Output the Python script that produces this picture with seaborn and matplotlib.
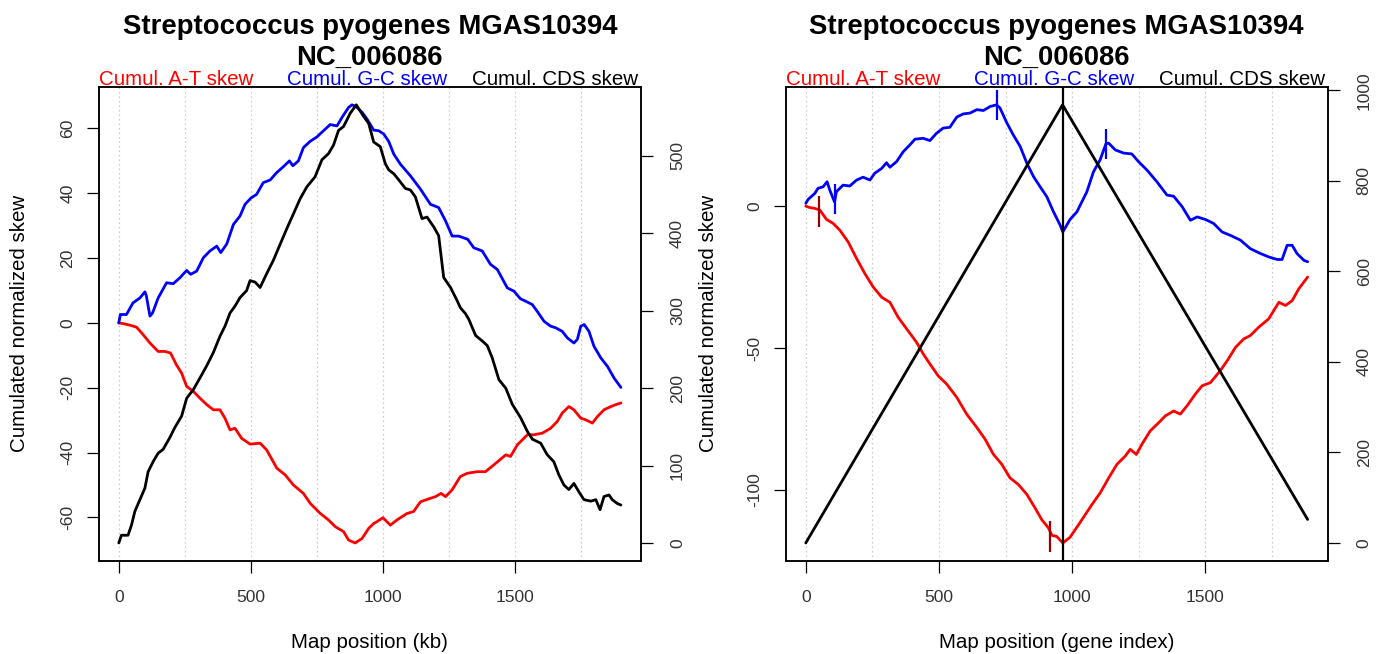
import numpy as np
import pandas as pd
import matplotlib
matplotlib.use("Agg")
import matplotlib.pyplot as plt
import seaborn as sns
from matplotlib.ticker import FixedLocator

sns.set_theme(style="ticks")
plt.rcParams['font.family'] = ['Liberation Sans', 'DejaVu Sans']
plt.rcParams['text.color'] = 'black'
plt.rcParams['axes.labelcolor'] = 'black'
plt.rcParams['axes.unicode_minus'] = False

# ---------------- data: skew by map position (kb) ----------------
kb_gc = [0, 6, 29, 54, 80, 99, 104, 118, 128, 149, 181, 206, 231, 257, 272, 295, 320, 345,
         371, 386, 409, 434, 459, 478, 500, 522, 547, 573, 598, 623, 646, 659, 680, 699,
         724, 750, 775, 800, 826, 845, 870, 883, 899, 921, 940, 965, 984, 1003, 1022, 1041,
         1066, 1104, 1142, 1180, 1211, 1237, 1262, 1287, 1321, 1344, 1376, 1407, 1433, 1471,
         1496, 1520, 1540, 1565, 1584, 1610, 1635, 1654, 1679, 1698, 1723, 1736, 1749, 1762,
         1780, 1799, 1825, 1850, 1875, 1901]
gc_kb = [0, 2.6, 2.6, 6.2, 7.7, 9.6, 8.5, 2.1, 3.1, 7.7, 12.4, 12.1, 13.9, 16.2, 15.0, 16.0,
         20.1, 22.2, 23.7, 21.7, 24.4, 30.4, 33.0, 36.6, 38.5, 39.7, 43.3, 44.1, 46.4, 48.2,
         50.0, 48.5, 50.0, 54.1, 56.0, 57.4, 59.3, 61.2, 60.8, 63.4, 66.5, 67.3, 66.7, 65.0,
         62.9, 59.5, 59.3, 58.3, 56.0, 52.1, 49.0, 45.4, 41.3, 36.6, 35.6, 31.5, 26.8, 26.8,
         25.8, 23.2, 22.2, 18.1, 16.5, 10.8, 9.8, 7.5, 6.7, 5.7, 3.6, 0.5, -1.0, -1.5, -2.6,
         -4.6, -6.2, -5.1, -1.0, -0.5, -2.6, -7.2, -10.8, -13.4, -17.0, -19.9]

kb_at = [0, 16, 42, 67, 92, 118, 149, 175, 196, 218, 238, 257, 282, 307, 333, 358, 383, 402,
         421, 440, 465, 497, 535, 560, 598, 630, 661, 699, 725, 763, 794, 820, 851, 870, 895,
         921, 946, 965, 978, 1000, 1028, 1053, 1091, 1116, 1142, 1173, 1199, 1220, 1237, 1262,
         1293, 1319, 1357, 1388, 1420, 1465, 1483, 1509, 1547, 1572, 1604, 1635, 1660, 1679,
         1704, 1723, 1749, 1768, 1793, 1812, 1837, 1863, 1882, 1901]
at_kb = [0, -0.2, -0.7, -1.3, -3.6, -6.2, -8.8, -8.8, -9.3, -12.9, -15.5, -19.6, -21.1, -23.2,
         -25.2, -26.8, -26.8, -29.4, -33.0, -32.5, -35.6, -37.4, -37.1, -39.2, -44.8, -46.9,
         -50.0, -52.6, -55.7, -58.8, -60.8, -62.9, -64.4, -67.0, -67.9, -66.5, -63.4, -61.9,
         -61.3, -60.1, -62.4, -60.8, -58.8, -58.2, -55.2, -54.3, -53.6, -52.6, -53.6, -51.5,
         -47.4, -46.4, -45.9, -45.9, -43.8, -40.7, -41.2, -37.6, -34.5, -34.5, -34.0, -32.5,
         -30.4, -27.8, -25.8, -26.8, -29.4, -29.9, -30.9, -28.9, -26.8, -25.8, -25.2, -24.7]

kb_cds = [0, 10, 35, 48, 61, 80, 99, 111, 130, 149, 168, 193, 212, 238, 257, 282, 307, 333,
          358, 383, 402, 421, 440, 459, 484, 497, 516, 535, 560, 585, 611, 636, 661, 687, 712,
          743, 769, 794, 813, 832, 851, 876, 899, 927, 946, 965, 990, 1009, 1022, 1041, 1060,
          1085, 1104, 1123, 1148, 1167, 1193, 1211, 1230, 1256, 1281, 1293, 1313, 1325, 1351,
          1376, 1395, 1414, 1439, 1465, 1490, 1521, 1547, 1566, 1597, 1622, 1647, 1666, 1685,
          1704, 1723, 1742, 1761, 1787, 1806, 1822, 1837, 1856, 1868, 1887, 1901]
cds_kb = [0, 10, 10, 23, 41, 56, 71, 92, 105, 116, 121, 136, 149, 164, 187, 198, 213, 229,
          246, 267, 280, 297, 306, 317, 326, 339, 337, 330, 348, 365, 386, 406, 425, 445, 460,
          473, 495, 503, 514, 533, 538, 555, 566, 551, 542, 518, 512, 490, 482, 477, 469, 458,
          456, 447, 419, 421, 408, 397, 343, 330, 313, 304, 296, 289, 268, 261, 255, 239, 211,
          200, 179, 162, 144, 134, 129, 114, 105, 88, 75, 69, 77, 66, 56, 54, 56, 43, 60, 62,
          56, 51, 49]

# ---------------- data: skew by gene index ----------------
gi_gc = [0, 9, 34, 46, 65, 80, 90, 108, 115, 140, 165, 191, 215, 241, 259, 285, 303, 316,
         341, 366, 391, 410, 441, 466, 491, 516, 541, 567, 591, 617, 642, 667, 692, 716, 729,
         755, 779, 805, 830, 855, 880, 905, 930, 955, 965, 992, 1018, 1030, 1055, 1080, 1105,
         1127, 1137, 1162, 1193, 1224, 1249, 1281, 1318, 1356, 1381, 1413, 1444, 1469, 1500,
         1531, 1563, 1594, 1632, 1669, 1707, 1738, 1770, 1788, 1807, 1826, 1844, 1870, 1884]
gc_gi = [1.0, 2.4, 4.5, 6.3, 6.8, 8.6, 5.7, 1.5, 5.1, 7.4, 7.1, 9.2, 10.2, 9.2, 11.6, 13.3,
         15.3, 13.7, 15.7, 19.2, 21.6, 23.6, 23.9, 23.1, 25.7, 27.5, 27.8, 31.4, 32.5, 32.8,
         34.0, 33.7, 35.1, 35.7, 34.6, 29.3, 25.1, 21.0, 15.1, 10.4, 6.8, 3.3, -2.0, -6.7,
         -9.1, -4.7, -2.0, 0.3, 5.0, 12.1, 16.3, 22.0, 22.2, 19.8, 18.7, 18.4, 15.7, 12.7, 8.6,
         3.9, 3.5, -0.2, -5.0, -3.8, -4.7, -6.1, -9.1, -10.3, -12.0, -15.0, -16.7, -17.9,
         -18.8, -18.8, -13.8, -13.8, -16.7, -19.1, -19.6]

gi_at = [0, 15, 34, 53, 78, 103, 128, 159, 191, 222, 253, 285, 316, 347, 379, 416, 441, 466,
         497, 529, 567, 604, 642, 673, 704, 736, 767, 798, 830, 861, 886, 911, 924, 942, 965,
         992, 1018, 1043, 1074, 1105, 1137, 1168, 1199, 1218, 1241, 1262, 1293, 1325, 1350,
         1381, 1406, 1431, 1462, 1488, 1519, 1556, 1582, 1613, 1644, 1669, 1700, 1738, 1776,
         1801, 1826, 1851, 1884]
at_gi = [0, -0.5, -0.8, -1.4, -4.7, -6.1, -8.5, -12.6, -18.5, -23.8, -28.5, -32.1, -33.9,
         -39.2, -43.3, -48.0, -52.1, -55.6, -59.8, -62.7, -67.4, -73.3, -78.0, -82.1, -87.4,
         -91.0, -95.8, -98.1, -101.6, -106.4, -110.5, -113.4, -116.0, -116.4, -118.7, -116.7,
         -113.1, -109.6, -105.2, -101.1, -95.8, -91.0, -88.1, -85.7, -87.5, -83.9, -79.2,
         -76.3, -73.9, -72.2, -73.3, -70.4, -66.3, -63.3, -62.2, -58.0, -54.5, -49.8, -46.8,
         -45.6, -42.7, -39.7, -33.9, -35.0, -33.3, -29.1, -25.0]

gi_cds = [0, 964, 1884]
cds_gi = [0, 968, 52]

# marked extrema on the gene-index skews
at_marks_x = [50, 917]
at_marks_y = [-1.9, -116.5]
gc_marks_x = [109, 719, 1127]
gc_marks_y = [2.5, 35.6, 21.9]

title_1 = "Streptococcus pyogenes MGAS10394"
title_2 = "NC_006086"
series_names = ["Cumul. A-T skew", "Cumul. G-C skew", "Cumul. CDS skew"]
series_colors = ["#ff0000", "#0000ff", "#000000"]

# ---------------- figure ----------------
W, H = 1385, 654
fig = plt.figure(figsize=(W / 100, H / 100), dpi=100)


def px_box(left, right, top, bottom):
    return [left / W, 1 - bottom / H, (right - left) / W, (bottom - top) / H]


def r_limits(*arrays):
    lo = min(np.min(a) for a in arrays)
    hi = max(np.max(a) for a in arrays)
    pad = 0.04 * (hi - lo)
    return lo - pad, hi + pad


TICK_FS = 12.6
TEXT_FS = 14.8
LW = 2.0
TICK_COLOR = "#333333"


def style_pair(ax, axr, yticks_l, yticks_r):
    for a in (ax, axr):
        for s in a.spines.values():
            s.set_visible(True)
            s.set_color("black")
            s.set_linewidth(1.1)
    ax.set_xticks([0, 500, 1000, 1500])
    ax.xaxis.set_minor_locator(FixedLocator([250, 750, 1250, 1750]))
    ax.grid(which="both", axis="x", color="#c8c8c8", linestyle=(0, (1.2, 2.4)), linewidth=0.9)
    ax.grid(which="both", axis="y", visible=False)
    axr.grid(False)
    ax.tick_params(axis="x", which="major", direction="out", length=8.4, width=0.9,
                   color="black", bottom=True, top=False, pad=13, labelsize=TICK_FS,
                   labelcolor=TICK_COLOR)
    ax.tick_params(axis="x", which="minor", length=0, bottom=False, top=False)
    ax.tick_params(axis="y", direction="out", length=8.4, width=0.9, color="black",
                   left=True, right=False, pad=8.4, labelsize=TICK_FS,
                   labelcolor=TICK_COLOR, labelrotation=90)
    ax.set_yticks(yticks_l)
    axr.set_yticks(yticks_r)
    axr.tick_params(axis="y", direction="out", length=8.4, width=0.9, color="black",
                    right=True, left=False, labelright=True, labelleft=False, pad=12.5,
                    labelsize=TICK_FS, labelcolor=TICK_COLOR, labelrotation=90)
    for lab in ax.get_yticklabels() + axr.get_yticklabels():
        lab.set_va("center")
    ax.set_xlabel("")
    ax.set_ylabel("")
    axr.set_ylabel("")


def header(left, right):
    cx = (left + right) / 2 / W
    fig.text(cx, 1 - 34.3 / H, title_1, ha="center", va="baseline", fontsize=19.8,
             fontweight="bold", color="black")
    fig.text(cx, 1 - 65 / H, title_2, ha="center", va="baseline", fontsize=19.8,
             fontweight="bold", color="black")
    yb = 1 - 85 / H
    fig.text(left / W, yb, series_names[0], color=series_colors[0], ha="left", va="baseline",
             fontsize=TEXT_FS)
    fig.text(cx - 3 / W, yb, series_names[1], color=series_colors[1], ha="center",
             va="baseline", fontsize=TEXT_FS)
    fig.text((right - 3) / W, yb, series_names[2], color=series_colors[2], ha="right",
             va="baseline", fontsize=TEXT_FS)


def side_labels(left, right, xlabel, ylab_x):
    cx = (left + right) / 2 / W
    fig.text(cx, 1 - 647.7 / H, xlabel, ha="center", va="baseline", fontsize=TEXT_FS,
             color="black")
    fig.text(ylab_x / W, 1 - 323.8 / H, "Cumulated normalized skew", rotation=90,
             rotation_mode="anchor", ha="center", va="baseline", fontsize=TEXT_FS,
             color="black")


TOP, BOTTOM = 87.3, 560.5

# ----- left panel: map position in kb -----
L1, R1 = 98.7, 641.0
ax1 = fig.add_axes(px_box(L1, R1, TOP, BOTTOM))
ax1r = ax1.twinx()
sns.lineplot(x=kb_at, y=at_kb, ax=ax1, color=series_colors[0], lw=LW, sort=False,
             estimator=None, legend=False)
sns.lineplot(x=kb_gc, y=gc_kb, ax=ax1, color=series_colors[1], lw=LW, sort=False,
             estimator=None, legend=False)
sns.lineplot(x=kb_cds, y=cds_kb, ax=ax1r, color=series_colors[2], lw=LW, sort=False,
             estimator=None, legend=False)
ax1.set_xlim(*r_limits(kb_at, kb_gc, kb_cds))
ax1.set_ylim(*r_limits(at_kb, gc_kb))
ax1r.set_ylim(*r_limits(cds_kb))
style_pair(ax1, ax1r, [-60, -40, -20, 0, 20, 40, 60], [0, 100, 200, 300, 400, 500])
header(L1, R1)
side_labels(L1, R1, "Map position (kb)", 25)

# ----- right panel: map position by gene index -----
L2, R2 = 785.7, 1327.7
ax2 = fig.add_axes(px_box(L2, R2, TOP, BOTTOM))
ax2r = ax2.twinx()
sns.lineplot(x=gi_at, y=at_gi, ax=ax2, color=series_colors[0], lw=LW, sort=False,
             estimator=None, legend=False)
sns.lineplot(x=gi_gc, y=gc_gi, ax=ax2, color=series_colors[1], lw=LW, sort=False,
             estimator=None, legend=False)
half = 5.4
ax2.vlines(at_marks_x, np.array(at_marks_y) - half, np.array(at_marks_y) + half,
           color="#9a0000", lw=1.6, zorder=3)
ax2.vlines(gc_marks_x, np.array(gc_marks_y) - half, np.array(gc_marks_y) + half,
           color=series_colors[1], lw=1.6, zorder=3)
sns.lineplot(x=gi_cds, y=cds_gi, ax=ax2r, color=series_colors[2], lw=LW, sort=False,
             estimator=None, legend=False)
ax2r.axvline(gi_cds[int(np.argmax(cds_gi))], color="black", lw=1.6)
ax2.set_xlim(*r_limits(gi_at, gi_gc, gi_cds))
ax2.set_ylim(*r_limits(at_gi, gc_gi))
ax2r.set_ylim(*r_limits(cds_gi))
style_pair(ax2, ax2r, [-100, -50, 0], [0, 200, 400, 600, 800, 1000])
header(L2, R2)
side_labels(L2, R2, "Map position (gene index)", 714)

fig.savefig("out.png", dpi=100, facecolor="white")
